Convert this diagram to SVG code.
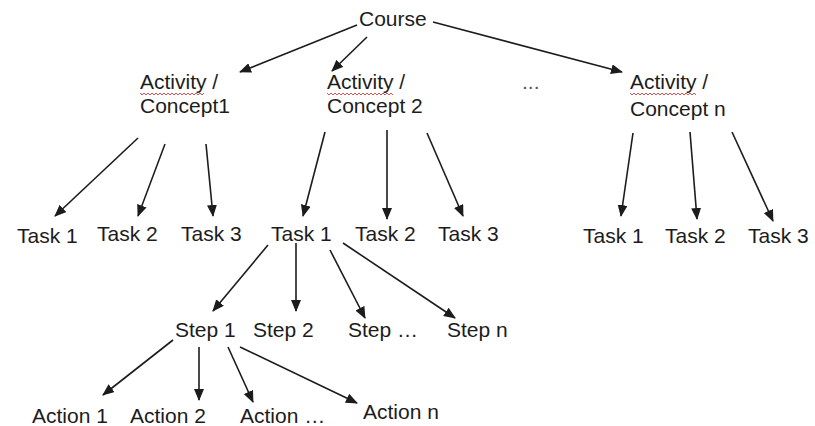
<svg xmlns="http://www.w3.org/2000/svg" width="815" height="426" viewBox="0 0 815 426">
<defs>
<style>
text{font-family:"Liberation Sans",Arial,sans-serif;font-size:21px;fill:#1c1c1c}
.c line{stroke:#1c1c1c;stroke-width:1.6;marker-end:url(#ah)}
.sq{fill:none;stroke:#d04040;stroke-width:0.9}
</style>
<marker id="ah" markerUnits="userSpaceOnUse" markerWidth="12" markerHeight="10" viewBox="0 0 12 10" refX="11" refY="5" orient="auto">
<path d="M0,0 L12,5 L0,10 z" fill="#1c1c1c"/>
</marker>
</defs>
<rect width="815" height="426" fill="#ffffff"/>
<g class="c" id="connectors">
<line x1="357" y1="25" x2="240" y2="72"/>
<line x1="367" y1="37" x2="332" y2="71"/>
<line x1="433" y1="22" x2="622" y2="72"/>
<line x1="138" y1="138" x2="55" y2="216"/>
<line x1="165" y1="144" x2="138" y2="216"/>
<line x1="206" y1="144" x2="213" y2="216"/>
<line x1="325" y1="132" x2="303" y2="216"/>
<line x1="387" y1="130" x2="387" y2="219"/>
<line x1="427" y1="133" x2="463" y2="216"/>
<line x1="633" y1="133" x2="621" y2="216"/>
<line x1="690" y1="132" x2="697" y2="219"/>
<line x1="732" y1="132" x2="773" y2="221"/>
<line x1="268" y1="245" x2="213" y2="311"/>
<line x1="296" y1="243" x2="296" y2="311"/>
<line x1="330" y1="250" x2="365" y2="318"/>
<line x1="343" y1="243" x2="455" y2="318"/>
<line x1="173" y1="340" x2="103" y2="395"/>
<line x1="199" y1="347" x2="199" y2="400"/>
<line x1="228" y1="347" x2="253" y2="402"/>
<line x1="240" y1="347" x2="357" y2="403"/>
</g>
<g id="course"><text x="359" y="26">Course</text></g>
<g id="activity1"><text x="140" y="89">Activity /</text><text x="140" y="113">Concept1</text><path class="sq" d="M140,93 l2,2 l2,-2 l2,2 l2,-2 l2,2 l2,-2 l2,2 l2,-2 l2,2 l2,-2 l2,2 l2,-2 l2,2 l2,-2 l2,2 l2,-2 l2,2 l2,-2 l2,2 l2,-2 l2,2 l2,-2 l2,2 l2,-2 l2,2 l2,-2 l2,2 l2,-2 l2,2 l2,-2 l2,2 l2,-2"/></g>
<g id="activity2"><text x="327" y="89">Activity /</text><text x="327" y="113">Concept 2</text><path class="sq" d="M327,93 l2,2 l2,-2 l2,2 l2,-2 l2,2 l2,-2 l2,2 l2,-2 l2,2 l2,-2 l2,2 l2,-2 l2,2 l2,-2 l2,2 l2,-2 l2,2 l2,-2 l2,2 l2,-2 l2,2 l2,-2 l2,2 l2,-2 l2,2 l2,-2 l2,2 l2,-2 l2,2 l2,-2 l2,2 l2,-2 l2,2"/></g>
<g id="dots"><text x="522" y="89" style="fill:#555">...</text></g>
<g id="activityn"><text x="630" y="89">Activity /</text><text x="630" y="116">Concept n</text><path class="sq" d="M630,93 l2,2 l2,-2 l2,2 l2,-2 l2,2 l2,-2 l2,2 l2,-2 l2,2 l2,-2 l2,2 l2,-2 l2,2 l2,-2 l2,2 l2,-2 l2,2 l2,-2 l2,2 l2,-2 l2,2 l2,-2 l2,2 l2,-2 l2,2 l2,-2 l2,2 l2,-2 l2,2 l2,-2 l2,2 l2,-2 l2,2"/></g>
<g id="a1task1"><text x="17" y="243">Task 1</text></g>
<g id="a1task2"><text x="97" y="241">Task 2</text></g>
<g id="a1task3"><text x="181" y="241">Task 3</text></g>
<g id="a2task1"><text x="271" y="241">Task 1</text></g>
<g id="a2task2"><text x="355" y="241">Task 2</text></g>
<g id="a2task3"><text x="438" y="241">Task 3</text></g>
<g id="antask1"><text x="583" y="243">Task 1</text></g>
<g id="antask2"><text x="665" y="243">Task 2</text></g>
<g id="antask3"><text x="748" y="243">Task 3</text></g>
<g id="step1"><text x="175" y="337">Step 1</text></g>
<g id="step2"><text x="253" y="337">Step 2</text></g>
<g id="stepdots"><text x="348" y="337">Step …</text></g>
<g id="stepn"><text x="447" y="337">Step n</text></g>
<g id="action1"><text x="32" y="423">Action 1</text></g>
<g id="action2"><text x="130" y="423">Action 2</text></g>
<g id="actiondots"><text x="240" y="423">Action …</text></g>
<g id="actionn"><text x="363" y="419">Action n</text></g>
</svg>
